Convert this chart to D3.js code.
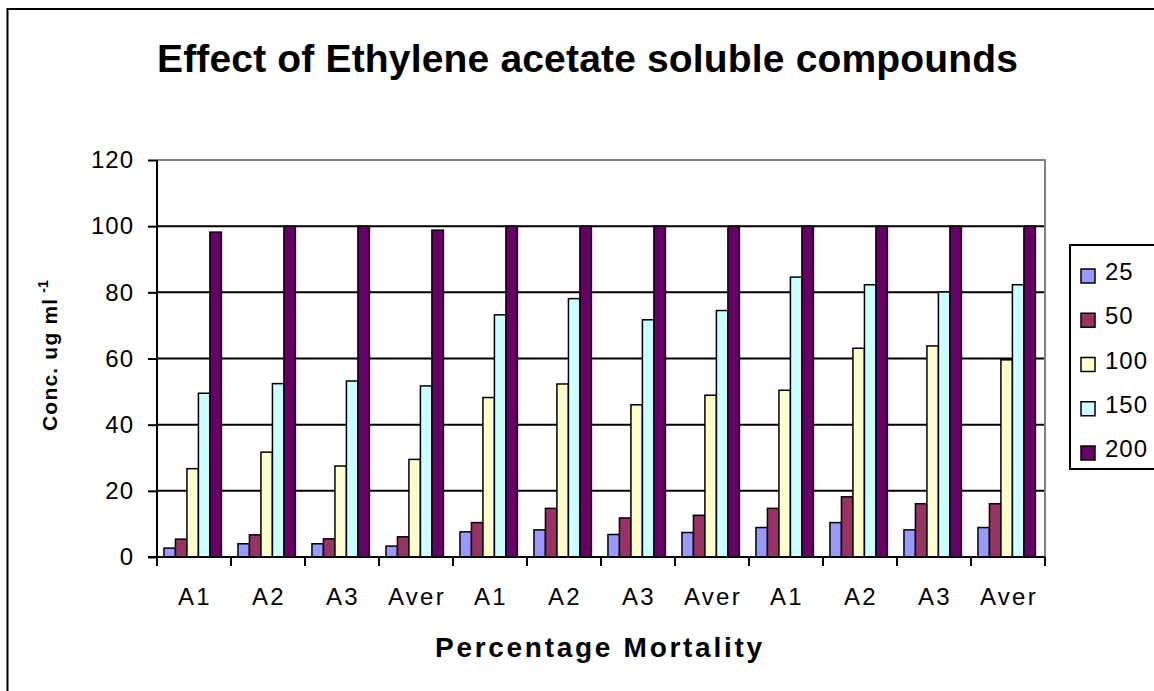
<!DOCTYPE html>
<html>
<head>
<meta charset="utf-8">
<script src="https://cdn.jsdelivr.net/npm/d3@7"></script>
<style>
  body { margin: 0; background: #fff; }
  svg { display: block; font-family: Arial, "Liberation Sans", sans-serif; }
</style>
</head>
<body>
<svg id="chart"></svg>
<script>
// categories along the x axis (two sets of A1..Aver repeated)
const categories = ['A1', 'A2', 'A3', 'Aver', 'A1', 'A2', 'A3', 'Aver', 'A1', 'A2', 'A3', 'Aver'];
const seriesNames = ['25', '50', '100', '150', '200'];

// one array per concentration
const conc25  = [2.7, 4.0, 4.0, 3.3, 7.6, 8.2, 6.8, 7.4, 8.9, 10.4, 8.2, 8.9];
const conc50  = [5.4, 6.7, 5.5, 6.1, 10.4, 14.7, 11.8, 12.6, 14.7, 18.2, 16.1, 16.1];
const conc100 = [26.7, 31.7, 27.5, 29.5, 48.2, 52.3, 46.0, 48.9, 50.4, 63.1, 63.8, 59.6];
const conc150 = [49.5, 52.4, 53.2, 51.7, 73.2, 78.1, 71.7, 74.5, 84.6, 82.3, 80.1, 82.3];
const conc200 = [98.2, 100, 100, 98.8, 100, 100, 100, 100, 100, 100, 100, 100];
const series = [conc25, conc50, conc100, conc150, conc200];

const yTicks = [0, 20, 40, 60, 80, 100, 120];
const colors = ['#9999ff', '#993366', '#ffffcc', '#ccffff', '#660066'];

const width = 1154,
  height = 691;

const plot = {left: 157, right: 1045, top: 160, bottom: 557};

const svg = d3.select('#chart')
  .attr('width', width)
  .attr('height', height);

// chart area border
svg.append('rect')
  .attr('x', 7.5)
  .attr('y', 9)
  .attr('width', width + 20)
  .attr('height', height + 20)
  .attr('fill', '#fff')
  .attr('stroke', '#000')
  .attr('stroke-width', 2);

const x0 = d3.scaleBand()
  .domain(d3.range(categories.length))
  .range([plot.left, plot.right]);

const x1 = d3.scaleBand()
  .domain(d3.range(seriesNames.length))
  .range([0, x0.bandwidth()])
  .paddingOuter(0.72)
  .align(0.42);

const y = d3.scaleLinear()
  .domain([0, 120])
  .range([plot.bottom, plot.top]);

// gridlines
svg.append('g')
  .selectAll('line')
  .data(yTicks.filter(d => d > 0 && d < 120))
  .enter()
  .append('line')
    .attr('x1', plot.left)
    .attr('x2', plot.right)
    .attr('y1', d => y(d))
    .attr('y2', d => y(d))
    .attr('stroke', '#000')
    .attr('stroke-width', 2);

// gray top/right plot border
svg.append('path')
  .attr('d', `M${plot.left},${y(120)}H${plot.right}V${plot.bottom}`)
  .attr('fill', 'none')
  .attr('stroke', '#808080')
  .attr('stroke-width', 2);

// bars
const groups = svg.append('g')
  .selectAll('g')
  .data(categories)
  .enter()
  .append('g')
    .attr('transform', (d, i) => `translate(${x0(i)},0)`);

groups.selectAll('rect')
  .data((d, i) => series.map((s, k) => ({k: k, v: s[i]})))
  .enter()
  .append('rect')
    .attr('x', d => x1(d.k))
    .attr('width', x1.bandwidth())
    .attr('y', d => y(d.v))
    .attr('height', d => y(0) - y(d.v))
    .attr('fill', d => colors[d.k])
    .attr('stroke', '#000')
    .attr('stroke-width', 1.5);

// y axis
const yAxis = d3.axisLeft(y)
  .tickValues(yTicks)
  .tickSize(9)
  .tickPadding(14);

const yG = svg.append('g')
  .attr('transform', `translate(${plot.left},0)`)
  .call(yAxis);
yG.select('.domain').attr('stroke-width', 2).attr('d', `M0,${plot.top}V${plot.bottom}`);
yG.selectAll('.tick line').attr('stroke-width', 2);
yG.selectAll('.tick text')
  .attr('font-size', 24)
  .attr('letter-spacing', 1)
  .attr('font-family', 'Arial, "Liberation Sans", sans-serif')
  .attr('fill', '#000');

// x axis: ticks at category boundaries
const xG = svg.append('g');
xG.append('line')
  .attr('x1', plot.left - 9)
  .attr('x2', plot.right)
  .attr('y1', plot.bottom)
  .attr('y2', plot.bottom)
  .attr('stroke', '#000')
  .attr('stroke-width', 2);

xG.selectAll('line.tick')
  .data(d3.range(categories.length + 1))
  .enter()
  .append('line')
    .attr('class', 'tick')
    .attr('x1', i => plot.left + i * x0.step())
    .attr('x2', i => plot.left + i * x0.step())
    .attr('y1', plot.bottom)
    .attr('y2', plot.bottom + 9)
    .attr('stroke', '#000')
    .attr('stroke-width', 2);

xG.selectAll('text')
  .data(categories)
  .enter()
  .append('text')
    .attr('x', (d, i) => x0(i) + x0.bandwidth() / 2 + 1)
    .attr('y', 605)
    .attr('text-anchor', 'middle')
    .attr('font-size', 24)
    .attr('letter-spacing', 2.3)
    .text(d => d);

// titles
svg.append('text')
  .attr('x', 157)
  .attr('y', 72)
  .attr('font-size', 39)
  .attr('font-weight', 'bold')
  .attr('textLength', 861)
  .attr('lengthAdjust', 'spacing')
  .text('Effect of Ethylene acetate soluble compounds');

svg.append('text')
  .attr('x', 435)
  .attr('y', 657)
  .attr('font-size', 28)
  .attr('font-weight', 'bold')
  .attr('textLength', 327)
  .attr('lengthAdjust', 'spacing')
  .text('Percentage Mortality');

const yTitle = svg.append('text')
  .attr('transform', 'translate(57,431) rotate(-90)')
  .attr('font-size', 21)
  .attr('font-weight', 'bold');
yTitle.append('tspan')
  .attr('letter-spacing', 1.2)
  .text('Conc. ug ml');
yTitle.append('tspan')
  .attr('dx', 5)
  .attr('dy', -9)
  .attr('font-size', 14)
  .text('-1');

// legend
const legend = svg.append('g');
legend.append('rect')
  .attr('x', 1070)
  .attr('y', 245)
  .attr('width', 120)
  .attr('height', 224)
  .attr('fill', '#fff')
  .attr('stroke', '#000')
  .attr('stroke-width', 2);

const items = legend.selectAll('g')
  .data(seriesNames)
  .enter()
  .append('g')
    .attr('transform', (d, i) => `translate(0,${280 + i * 44.25})`);

items.append('rect')
  .attr('x', 1081)
  .attr('y', -11)
  .attr('width', 14)
  .attr('height', 14)
  .attr('fill', (d, i) => colors[i])
  .attr('stroke', '#000')
  .attr('stroke-width', 1.5);

items.append('text')
  .attr('x', 1105)
  .attr('y', 0)
  .attr('font-size', 24)
  .attr('letter-spacing', 1)
  .text(d => d);
</script>
</body>
</html>
